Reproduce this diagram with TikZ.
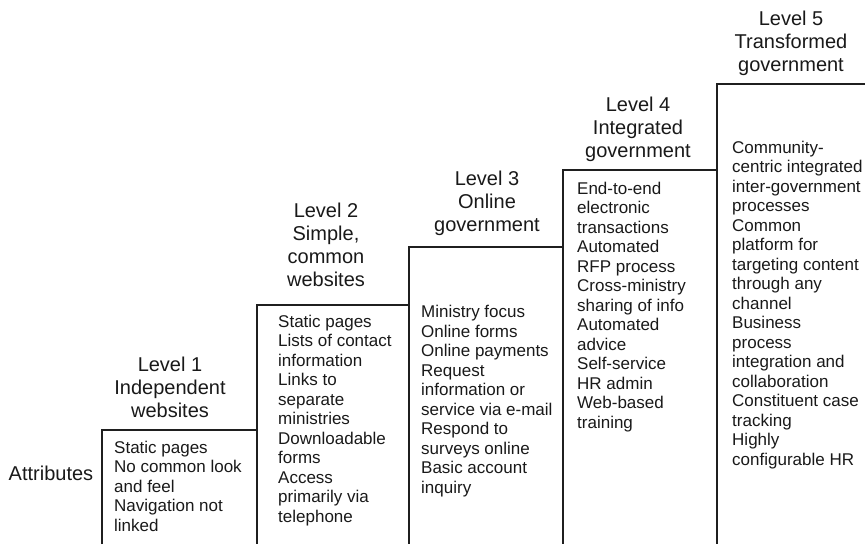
\documentclass[tikz,border=0pt]{standalone}
\usepackage{fontspec}
\setmainfont{Liberation Sans}
\begin{document}
\begin{tikzpicture}[x=1pt,y=-1pt,
  edge/.style={draw=black!88, line width=2pt, line join=miter},
  hd/.style={align=center, inner sep=0pt, anchor=base, text=black!90,
    font=\fontsize{20}{23.3}\selectfont},
  bd/.style={align=left, inner sep=0pt, anchor=base west, text=black!90,
    font=\fontsize{17}{19.5}\selectfont}]
\useasboundingbox (0,0) rectangle (865,544);
% staircase outline
\coordinate (b1bl) at (101.5,544);
\coordinate (b1tl) at (101.5,430);
\coordinate (b2tl) at (256.5,430);
\coordinate (b2top) at (256.5,305);
\coordinate (b3tl) at (408.5,305);
\coordinate (b3top) at (408.5,247);
\coordinate (b4tl) at (563,247);
\coordinate (b4top) at (563,170);
\coordinate (b5tl) at (717,170);
\coordinate (b5top) at (717,83.5);
\coordinate (endr) at (865,83.5);
\draw[edge] (b1bl) -- (b1tl) -- (b2tl) -- (256.5,544);
\draw[edge] (256.5,430) -- (b2top) -- (b3tl) -- (408.5,544);
\draw[edge] (408.5,305) -- (b3top) -- (b4tl) -- (563,544);
\draw[edge] (563,247) -- (b4top) -- (b5tl) -- (717,544);
\draw[edge] (717,170) -- (b5top) -- (endr);
% attributes label
\node[hd, anchor=base west] (attr) at (8.5,480) {Attributes};
% headings (anchor = baseline of last line)
\node[hd] (h1) at (170,417.6) {Level 1\\Independent\\websites};
\node[hd] (h2) at (326,286.9) {Level 2\\Simple,\\common\\websites};
\node[hd] (h3) at (487,231.6) {Level 3\\Online\\government};
\node[hd] (h4) at (638,157.6) {Level 4\\Integrated\\government};
\node[hd] (h5) at (791,71.6) {Level 5\\Transformed\\government};
% bodies (anchor = baseline of last line)
\node[bd] (t1) at (114,531) {Static pages\\No common look\\and feel\\Navigation not\\linked};
\node[bd] (t2) at (278,522) {Static pages\\Lists of contact\\information\\Links to\\separate\\ministries\\Downloadable\\forms\\Access\\primarily via\\telephone};
\node[bd] (t3) at (421,493) {Ministry focus\\Online forms\\Online payments\\Request\\information or\\service via e-mail\\Respond to\\surveys online\\Basic account\\inquiry};
\node[bd] (t4) at (577,428) {End-to-end\\electronic\\transactions\\Automated\\RFP process\\Cross-ministry\\sharing of info\\Automated\\advice\\Self-service\\HR admin\\Web-based\\training};
\node[bd] (t5) at (732,465) {Community-\\centric integrated\\inter-government\\processes\\Common\\platform for\\targeting content\\through any\\channel\\Business\\process\\integration and\\collaboration\\Constituent case\\tracking\\Highly\\configurable HR};
\end{tikzpicture}
\end{document}
